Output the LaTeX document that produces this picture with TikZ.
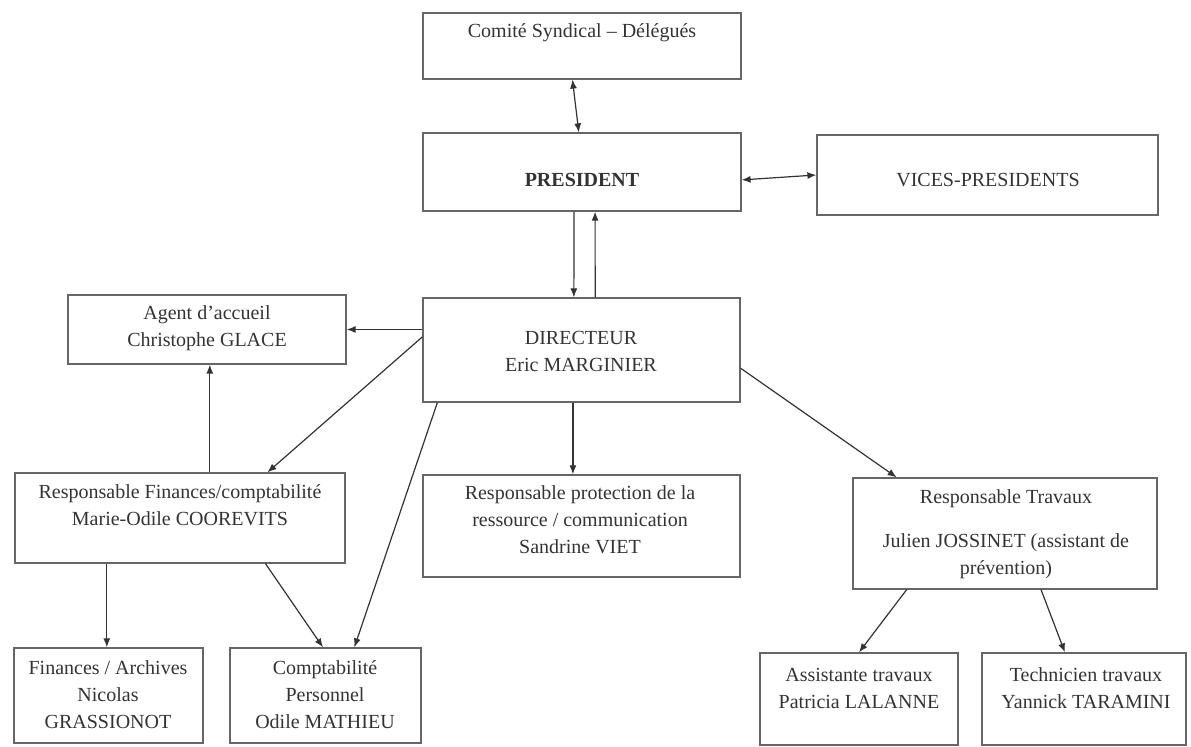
\documentclass[tikz,border=0pt]{standalone}
\usepackage{fontspec}
\setmainfont{Liberation Serif}
\usetikzlibrary{arrows.meta,calc,fit}

\begin{document}
\begin{tikzpicture}[x=0.5pt,y=0.5pt,yscale=-1,xscale=1,
	box/.style={draw=black!60,line width=0.6pt,inner sep=0pt},
	txt/.style={inner sep=0.75pt,align=center,text=black!80,font=\fontsize{10}{13.5}\selectfont},
	arr/.style={draw=black!80,line width=0.6pt,-{Latex[length=4.5pt,width=3.5pt]}},
	darr/.style={arr,{Latex[length=4.5pt,width=3.5pt]}-{Latex[length=4.5pt,width=3.5pt]}}]
	\useasboundingbox (0,0) rectangle (1191,747);

	%Shape: Rectangle [id:com]
	\node [box, fit={(423,13) (741,79)}] (com) {};
	%Shape: Rectangle [id:pres]
	\node [box, fit={(423,133) (741,211)}] (pres) {};
	%Shape: Rectangle [id:vp]
	\node [box, fit={(817,135) (1158,215)}] (vp) {};
	%Shape: Rectangle [id:ag]
	\node [box, fit={(68,295) (346,364)}] (ag) {};
	%Shape: Rectangle [id:dir]
	\node [box, fit={(423,298) (740,402)}] (dir) {};
	%Shape: Rectangle [id:fin]
	\node [box, fit={(15,473) (345,563)}] (fin) {};
	%Shape: Rectangle [id:pro]
	\node [box, fit={(423,475) (740,577)}] (pro) {};
	%Shape: Rectangle [id:trav]
	\node [box, fit={(853,478) (1157,589)}] (trav) {};
	%Shape: Rectangle [id:arc]
	\node [box, fit={(14,648) (203,743)}] (arc) {};
	%Shape: Rectangle [id:cpt]
	\node [box, fit={(230,648) (421,743)}] (cpt) {};
	%Shape: Rectangle [id:ass]
	\node [box, fit={(760,653) (958,745)}] (ass) {};
	%Shape: Rectangle [id:tech]
	\node [box, fit={(982,653) (1186,745)}] (tech) {};

	%Straight Lines [id:com-pres]
	\draw [darr] ($(com.south west)!0.47!(com.south east)$) -- ($(pres.north west)!0.49!(pres.north east)$) ;
	%Straight Lines [id:pres-vp]
	\draw [darr] ($(pres.north east)!0.6!(pres.south east)$) -- (vp.west) ;
	%Straight Lines [id:pres-dir]
	\draw [arr] ($(pres.south west)!0.475!(pres.south east)$) -- ($(dir.north west)!0.476!(dir.north east)$) ;
	%Straight Lines [id:dir-pres]
	\draw [arr] ($(dir.north west)!0.543!(dir.north east)$) -- ($(pres.south west)!0.541!(pres.south east)$) ;
	%Straight Lines [id:dir-ag]
	\draw [arr] (dir.west |- ag.east) -- (ag.east) ;
	%Straight Lines [id:fin-ag]
	\draw [arr] ($(fin.north west)!0.59!(fin.north east)$) coordinate (f1) -- (f1 |- ag.south) ;
	%Straight Lines [id:dir-fin]
	\draw [arr] ($(dir.north west)!0.375!(dir.south west)$) -- ($(fin.north west)!0.764!(fin.north east)$) ;
	%Straight Lines [id:dir-cpt]
	\draw [arr] ($(dir.south west)!0.047!(dir.south east)$) -- ($(cpt.north west)!0.65!(cpt.north east)$) ;
	%Straight Lines [id:dir-pro]
	\draw [arr] ($(dir.south west)!0.473!(dir.south east)$) coordinate (d1) -- (d1 |- pro.north) ;
	%Straight Lines [id:dir-trav]
	\draw [arr] ($(dir.north east)!0.673!(dir.south east)$) -- ($(trav.north west)!0.145!(trav.north east)$) ;
	%Straight Lines [id:fin-arc]
	\draw [arr] ($(fin.south west)!0.279!(fin.south east)$) coordinate (f2) -- (f2 |- arc.north) ;
	%Straight Lines [id:fin-cpt]
	\draw [arr] ($(fin.south west)!0.758!(fin.south east)$) -- ($(cpt.north west)!0.487!(cpt.north east)$) ;
	%Straight Lines [id:trav-ass]
	\draw [arr] ($(trav.south west)!0.178!(trav.south east)$) -- (ass.north) ;
	%Straight Lines [id:trav-tech]
	\draw [arr] ($(trav.south west)!0.618!(trav.south east)$) -- ($(tech.north west)!0.407!(tech.north east)$) ;

	% Text Node
	\node [txt] (comtxt) at (582,33) {Comité Syndical -- Délégués};
	% Text Node
	\node [txt] (prestxt) at (582,180) {\textbf{PRESIDENT}};
	% Text Node
	\node [txt] (vptxt) at (988,180) {VICES-PRESIDENTS};
	% Text Node
	\node [txt] (agtxt) at (207,328) {Agent d'accueil\\Christophe GLACE};
	% Text Node
	\node [txt] (dirtxt) at (581,351) {DIRECTEUR\\Eric MARGINIER};
	% Text Node
	\node [txt] (fintxt) at (180,505) {Responsable Finances/comptabilité\\Marie-Odile COOREVITS};
	% Text Node
	\node [txt] (protxt) at (580,520) {Responsable protection de la\\ressource / communication\\Sandrine VIET};
	% Text Node
	\node [txt] (travtxt) at (1006,534) {Responsable Travaux\\[8.5pt]Julien JOSSINET (assistant de\\prévention)};
	% Text Node
	\node [txt] (arctxt) at (108,695) {Finances / Archives\\Nicolas\\GRASSIONOT};
	% Text Node
	\node [txt] (cpttxt) at (325,695) {Comptabilité\\Personnel\\Odile MATHIEU};
	% Text Node
	\node [txt] (asstxt) at (859,688) {Assistante travaux\\Patricia LALANNE};
	% Text Node
	\node [txt] (techtxt) at (1086,688) {Technicien travaux\\Yannick TARAMINI};

\end{tikzpicture}
\end{document}
